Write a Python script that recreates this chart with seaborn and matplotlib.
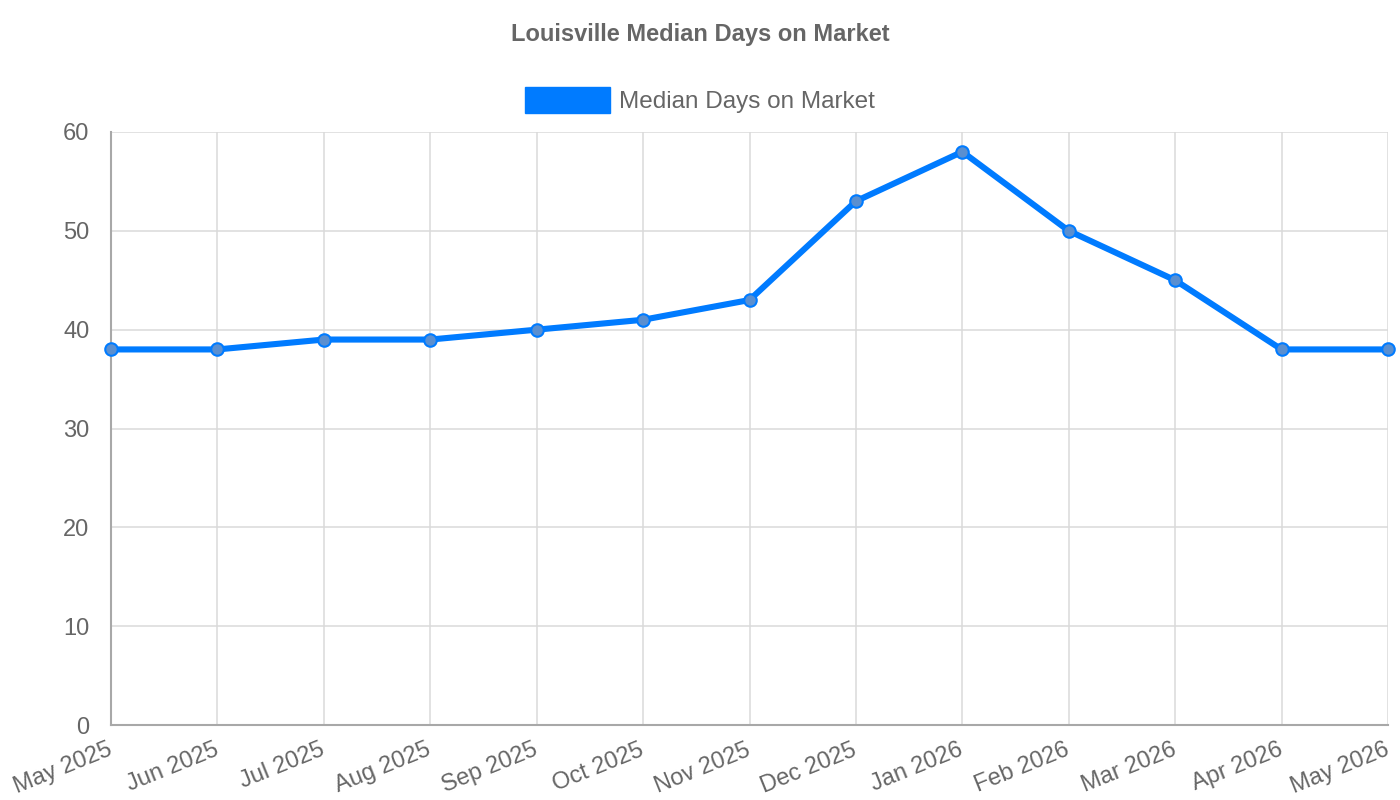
import matplotlib
matplotlib.use("Agg")
import matplotlib.pyplot as plt
import seaborn as sns
import pandas as pd
from matplotlib.patches import Patch

months = ["May 2025", "Jun 2025", "Jul 2025", "Aug 2025", "Sep 2025", "Oct 2025",
          "Nov 2025", "Dec 2025", "Jan 2026", "Feb 2026", "Mar 2026", "Apr 2026", "May 2026"]
days = [38, 38, 39, 39, 40, 41, 43, 53, 58, 50, 45, 38, 38]
yticks = [0, 10, 20, 30, 40, 50, 60]

sns.set_theme(style="white")
plt.rcParams['font.family'] = ['Liberation Sans', 'DejaVu Sans']

df = pd.DataFrame({"idx": range(len(months)), "days": days})

fig = plt.figure(figsize=(14, 8), dpi=100)
ax = fig.add_axes([111/1400, 1-725/800, (1388-111)/1400, (725-132)/800])

line_c = "#007bff"
sns.lineplot(data=df, x="idx", y="days", ax=ax, color=line_c, linewidth=4.4,
             marker="o", markersize=9, markerfacecolor="#5a8fd0",
             markeredgecolor=line_c, markeredgewidth=1.5, zorder=5, clip_on=False)

ax.set_xlim(0, len(months) - 1)
ax.set_ylim(0, 60)
ax.set_xticks(range(len(months)))
ax.set_xticklabels(months, rotation=22, ha="right", va="center", rotation_mode="anchor")
ax.set_yticks(yticks)
ax.set_yticklabels([str(v) for v in yticks])
ax.grid(True, color="#dadada", linewidth=1.1)
ax.set_axisbelow(True)
for s in ["top", "right"]:
    ax.spines[s].set_visible(False)
for s in ["left", "bottom"]:
    ax.spines[s].set_color("#a8a8a8")
    ax.spines[s].set_linewidth(1.5)
ax.tick_params(axis="both", colors="#dadada", length=13.5, width=1.1,
               labelcolor="#666666", labelsize=17, pad=2)
ax.tick_params(axis="x", pad=4)
ax.set_xlabel("")
ax.set_ylabel("")

fig.text(0.5, 1 - 34/800, "Louisville Median Days on Market", ha="center", va="center",
         fontsize=17, fontweight="bold", color="#666666")

handle = Patch(facecolor=line_c, edgecolor=line_c)
fig.legend([handle], ["Median Days on Market"], loc="center", bbox_to_anchor=(0.5, 1 - 100/800),
           frameon=False, fontsize=17.5, labelcolor="#666666", handlelength=3.5,
           handleheight=1.25, handletextpad=0.4)

fig.savefig("out.png", dpi=100)
